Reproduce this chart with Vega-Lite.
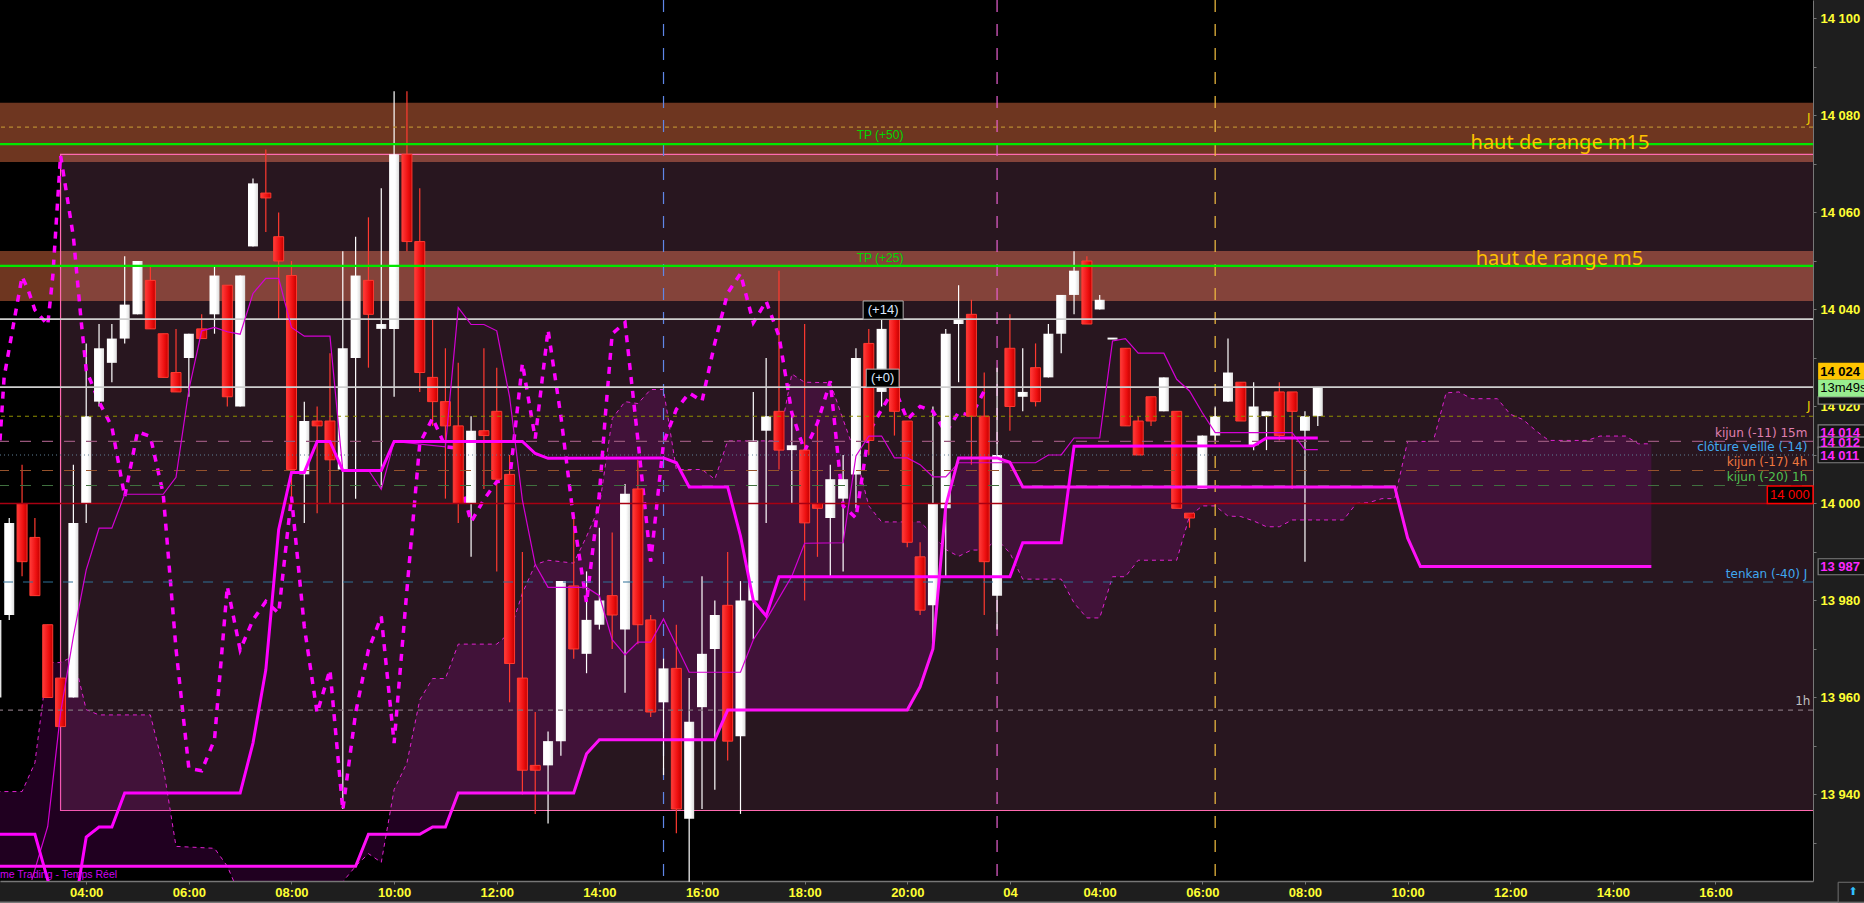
{"$schema":"https://vega.github.io/schema/vega-lite/v6.json","width":1813,"height":881,"autosize":"none","padding":{"left":0,"top":0,"right":51,"bottom":22},"background":"#1e1e1e","view":{"fill":"#000000","stroke":null},"config":{"scale":{"continuousPadding":0}},
"datasets":{
"bands":[{"top":14082.6,"bot":14070.4},{"top":14052.06,"bot":14041.75}],
"range":[{"t":3.5,"t2":37.8,"top":14072,"bot":13936.7}],
"cloud":[{"t":2.25,"a":13940.6,"b":13925.2},{"t":2.75,"a":13940.6,"b":13925.2},{"t":3,"a":13946.5,"b":13925.2},{"t":3.25,"a":13967.2,"b":13925.2},{"t":3.5,"a":13967.2,"b":13925.2},{"t":3.75,"a":13968.5,"b":13925.2},{"t":4,"a":13957.5,"b":13925.2},{"t":4.25,"a":13956.4,"b":13925.2},{"t":5.25,"a":13956.4,"b":13925.2},{"t":5.5,"a":13945.8,"b":13925.2},{"t":5.75,"a":13929.3,"b":13925.2},{"t":6.5,"a":13928.9,"b":13925.2},{"t":6.75,"a":13925.2,"b":13925.2},{"t":7,"a":13919,"b":13925.2},{"t":8.75,"a":13917,"b":13925.2},{"t":9,"a":13922,"b":13925.2},{"t":9.25,"a":13925.2,"b":13925.2},{"t":9.5,"a":13927.8,"b":13931.8},{"t":9.75,"a":13926,"b":13931.8},{"t":10,"a":13941,"b":13931.8},{"t":10.25,"a":13946.5,"b":13931.8},{"t":10.5,"a":13959.5,"b":13931.8},{"t":10.75,"a":13963.9,"b":13933.3},{"t":11,"a":13963.9,"b":13933.3},{"t":11.25,"a":13971,"b":13940.3},{"t":12,"a":13971,"b":13940.3},{"t":12.25,"a":13973.3,"b":13940.3},{"t":12.5,"a":13981.5,"b":13940.3},{"t":12.75,"a":13987.4,"b":13940.3},{"t":13,"a":13988.3,"b":13940.3},{"t":13.5,"a":13987.7,"b":13940.3},{"t":13.75,"a":13993.2,"b":13948.4},{"t":14,"a":13999.4,"b":13951.3},{"t":14.25,"a":14017.5,"b":13951.3},{"t":14.5,"a":14021,"b":13951.3},{"t":14.75,"a":14020.6,"b":13951.3},{"t":15,"a":14023.5,"b":13951.3},{"t":15.25,"a":14023.5,"b":13951.3},{"t":15.5,"a":14007,"b":13951.3},{"t":16,"a":14007,"b":13951.3},{"t":16.25,"a":14005,"b":13951.3},{"t":16.5,"a":14012.9,"b":13957.4},{"t":17.5,"a":14012.9,"b":13957.4},{"t":17.75,"a":14026.7,"b":13957.4},{"t":18,"a":14025,"b":13957.4},{"t":18.5,"a":14024.9,"b":13957.4},{"t":18.75,"a":14017.3,"b":13957.4},{"t":19,"a":14009.8,"b":13957.4},{"t":19.25,"a":13999.5,"b":13957.4},{"t":19.5,"a":13996.2,"b":13957.4},{"t":20,"a":13996.2,"b":13957.4},{"t":20.25,"a":13996.2,"b":13962.2},{"t":20.5,"a":13993.6,"b":13970},{"t":20.75,"a":13990.5,"b":13999.5},{"t":21,"a":13989.1,"b":14009.4},{"t":21.25,"a":13990.4,"b":14009.4},{"t":21.5,"a":13990.4,"b":14009.4},{"t":21.75,"a":13992.6,"b":14009.4},{"t":22,"a":13989.8,"b":14008.5},{"t":22.25,"a":13984.4,"b":14003.4},{"t":23,"a":13984.4,"b":14003.4},{"t":23.25,"a":13979.5,"b":14003.4},{"t":23.5,"a":13976.4,"b":14003.4},{"t":23.75,"a":13976.4,"b":14003.4},{"t":24,"a":13984.9,"b":14003.4},{"t":24.25,"a":13984.9,"b":14003.4},{"t":24.5,"a":13988.3,"b":14003.4},{"t":25.25,"a":13988.3,"b":14003.4},{"t":25.5,"a":13997.4,"b":14003.4},{"t":25.75,"a":13999.5,"b":14003.4},{"t":26,"a":13999.5,"b":14003.4},{"t":26.25,"a":13997.4,"b":14003.4},{"t":26.5,"a":13997.3,"b":14003.4},{"t":26.75,"a":13996.4,"b":14003.4},{"t":27,"a":13995.2,"b":14003.4},{"t":27.25,"a":13995.2,"b":14003.4},{"t":27.5,"a":13996.6,"b":14003.4},{"t":28.5,"a":13996.6,"b":14003.4},{"t":28.75,"a":14000,"b":14003.4},{"t":29,"a":14000.2,"b":14003.4},{"t":29.25,"a":14001,"b":14003.4},{"t":29.5,"a":14001,"b":14003.4},{"t":29.75,"a":14012.8,"b":13992.9},{"t":30,"a":14012.8,"b":13987},{"t":30.25,"a":14012.8,"b":13987},{"t":30.5,"a":14022.8,"b":13987},{"t":30.75,"a":14023,"b":13987},{"t":31,"a":14021.6,"b":13987},{"t":31.5,"a":14021.6,"b":13987},{"t":31.75,"a":14018.4,"b":13987},{"t":32,"a":14017.3,"b":13987},{"t":32.25,"a":14015,"b":13987},{"t":32.5,"a":14013,"b":13987},{"t":33.25,"a":14013,"b":13987},{"t":33.5,"a":14013.9,"b":13987},{"t":34,"a":14013.9,"b":13987},{"t":34.25,"a":14012.3,"b":13987},{"t":34.5,"a":14012.3,"b":13987}],
"kijun":[{"t":2.25,"v":13931.8},{"t":3,"v":13931.8},{"t":3.25,"v":13922.4},{"t":3.5,"v":13915},{"t":3.75,"v":13915},{"t":4,"v":13931.2},{"t":4.25,"v":13933.3},{"t":4.5,"v":13933.3},{"t":4.75,"v":13940.3},{"t":7,"v":13940.3},{"t":7.25,"v":13950.6},{"t":7.5,"v":13965.7},{"t":7.75,"v":13994.6},{"t":8,"v":14006.4},{"t":8.25,"v":14006.4},{"t":8.5,"v":14012.8},{"t":8.75,"v":14012.8},{"t":9,"v":14006.8},{"t":9.75,"v":14006.8},{"t":10,"v":14012.8},{"t":12.5,"v":14012.8},{"t":12.75,"v":14010.3},{"t":13,"v":14009.3},{"t":15.25,"v":14009.4},{"t":15.5,"v":14008.4},{"t":15.75,"v":14003.4},{"t":16.5,"v":14003.4},{"t":16.75,"v":13993.3},{"t":17,"v":13980},{"t":17.25,"v":13976.8},{"t":17.5,"v":13984.9},{"t":22,"v":13984.9},{"t":22.25,"v":13991.9},{"t":23,"v":13991.9},{"t":23.25,"v":14011.8},{"t":26.75,"v":14011.9},{"t":27,"v":14013.5},{"t":28,"v":14013.5}],
"tenkan":[{"t":2.94,"v":13922.4},{"t":3.25,"v":13933.4},{"t":3.5,"v":13956.8},{"t":3.75,"v":13972.6},{"t":4,"v":13986.3},{"t":4.25,"v":13994.9},{"t":4.5,"v":13994.9},{"t":4.75,"v":14001.9},{"t":5.5,"v":14001.9},{"t":5.75,"v":14005.4},{"t":6,"v":14023.4},{"t":6.25,"v":14035.6},{"t":6.5,"v":14036.3},{"t":6.75,"v":14035.4},{"t":7,"v":14034.9},{"t":7.25,"v":14043.3},{"t":7.5,"v":14046.4},{"t":7.75,"v":14046.4},{"t":8,"v":14036.3},{"t":8.25,"v":14034.5},{"t":8.75,"v":14034.5},{"t":9,"v":14006.9},{"t":9.5,"v":14006.9},{"t":9.75,"v":14002.9},{"t":10,"v":14012.8},{"t":11,"v":14011.7},{"t":11.25,"v":14040.4},{"t":11.5,"v":14036.9},{"t":11.75,"v":14036.9},{"t":12,"v":14035.6},{"t":12.25,"v":14022},{"t":12.5,"v":14000.7},{"t":12.75,"v":13987.4},{"t":13,"v":13982.7},{"t":13.75,"v":13982.7},{"t":14,"v":13981},{"t":14.25,"v":13971.9},{"t":14.5,"v":13968.8},{"t":14.75,"v":13971.4},{"t":15,"v":13971.4},{"t":15.25,"v":13976.2},{"t":15.5,"v":13970.7},{"t":15.75,"v":13965.2},{"t":16.75,"v":13965.2},{"t":17,"v":13971.9},{"t":17.25,"v":13976},{"t":17.75,"v":13985},{"t":18,"v":13991.8},{"t":18.75,"v":13991.9},{"t":19,"v":14009.8},{"t":19.25,"v":14013.9},{"t":19.5,"v":14013.9},{"t":19.75,"v":14009.4},{"t":20,"v":14009.4},{"t":20.25,"v":14008},{"t":20.5,"v":14005.5},{"t":20.75,"v":14005.5},{"t":21,"v":14008.4},{"t":22.5,"v":14008.4},{"t":22.75,"v":14010},{"t":23,"v":14010},{"t":23.25,"v":14013.5},{"t":23.75,"v":14013.5},{"t":24,"v":14033.5},{"t":24.25,"v":14034},{"t":24.5,"v":14031},{"t":25,"v":14031},{"t":25.25,"v":14025.6},{"t":25.5,"v":14023.2},{"t":25.75,"v":14018.7},{"t":26,"v":14014.6},{"t":27.5,"v":14014.6},{"t":27.75,"v":14011.1},{"t":28,"v":14011.1}],
"chikou":[{"t":2.32,"v":14013},{"t":2.4,"v":14026},{"t":2.55,"v":14035},{"t":2.75,"v":14046.8},{"t":2.87,"v":14044},{"t":3,"v":14039.9},{"t":3.25,"v":14036.8},{"t":3.35,"v":14047},{"t":3.5,"v":14071.8},{"t":3.75,"v":14055},{"t":3.9,"v":14037.8},{"t":4,"v":14027.5},{"t":4.25,"v":14021},{"t":4.5,"v":14015.8},{"t":4.75,"v":14001.4},{"t":5,"v":14014.8},{"t":5.25,"v":14013.8},{"t":5.5,"v":14002},{"t":5.75,"v":13970},{"t":6,"v":13945.4},{"t":6.25,"v":13944.9},{"t":6.5,"v":13951.3},{"t":6.75,"v":13982.9},{"t":7,"v":13969.8},{"t":7.25,"v":13976},{"t":7.5,"v":13979.8},{"t":7.75,"v":13977.4},{"t":8,"v":14001.4},{"t":8.25,"v":13974.6},{"t":8.5,"v":13956.8},{"t":8.75,"v":13965.7},{"t":9,"v":13936.8},{"t":9.25,"v":13956.8},{"t":9.5,"v":13969.8},{"t":9.75,"v":13976.7},{"t":10,"v":13950.6},{"t":10.25,"v":13982.2},{"t":10.5,"v":14012.4},{"t":10.75,"v":14017.6},{"t":11,"v":14011.7},{"t":11.15,"v":14011.5},{"t":11.25,"v":14006},{"t":11.5,"v":13996.2},{"t":11.75,"v":14000.8},{"t":12,"v":14004.5},{"t":12.25,"v":14004.8},{"t":12.5,"v":14028.9},{"t":12.75,"v":14013.4},{"t":13,"v":14035.8},{"t":13.25,"v":14018},{"t":13.5,"v":13996.6},{"t":13.75,"v":13979.5},{"t":14,"v":14002},{"t":14.12,"v":14018.6},{"t":14.25,"v":14035},{"t":14.5,"v":14037.3},{"t":14.75,"v":14013.2},{"t":15,"v":13988},{"t":15.25,"v":14012.5},{"t":15.5,"v":14019.4},{"t":15.75,"v":14022.8},{"t":16,"v":14021.1},{"t":16.25,"v":14033.1},{"t":16.5,"v":14043.4},{"t":16.75,"v":14047.4},{"t":17,"v":14037.3},{"t":17.25,"v":14041.7},{"t":17.5,"v":14034.5},{"t":17.75,"v":14018.7},{"t":18,"v":14010.8},{"t":18.25,"v":14016.6},{"t":18.5,"v":14025.2},{"t":18.75,"v":13999.5},{"t":19,"v":13997},{"t":19.25,"v":14014.6},{"t":19.5,"v":14019.4},{"t":19.75,"v":14023.8},{"t":20,"v":14017.3},{"t":20.25,"v":14020},{"t":20.5,"v":14019},{"t":20.75,"v":14014.6},{"t":21,"v":14018.8},{"t":21.25,"v":14018.1},{"t":21.5,"v":14023.2}],
"candles":[{"t":2.25,"o":13960,"c":13976,"h":13976,"l":13960},{"t":2.5,"o":13977,"c":13996,"h":13997,"l":13976},{"t":2.75,"o":14000,"c":13988,"h":14008,"l":13985},{"t":3,"o":13993,"c":13981,"h":13997,"l":13981},{"t":3.25,"o":13975,"c":13960,"h":13975,"l":13960},{"t":3.5,"o":13964,"c":13954,"h":13964,"l":13954},{"t":3.75,"o":13960,"c":13996,"h":14008,"l":13960},{"t":4,"o":14000,"c":14018,"h":14033,"l":13996},{"t":4.25,"o":14021,"c":14032,"h":14037,"l":14020},{"t":4.5,"o":14029,"c":14034,"h":14037,"l":14025},{"t":4.75,"o":14034,"c":14041,"h":14051,"l":14033},{"t":5,"o":14039,"c":14050,"h":14050,"l":14039},{"t":5.25,"o":14046,"c":14036,"h":14049,"l":14036},{"t":5.5,"o":14035,"c":14026,"h":14035,"l":14026},{"t":5.75,"o":14027,"c":14023,"h":14036,"l":14023},{"t":6,"o":14030,"c":14035,"h":14035,"l":14022},{"t":6.25,"o":14036,"c":14034,"h":14039,"l":14034},{"t":6.5,"o":14039,"c":14047,"h":14049,"l":14035},{"t":6.75,"o":14045,"c":14022,"h":14045,"l":14020},{"t":7,"o":14020,"c":14047,"h":14047,"l":14020},{"t":7.25,"o":14053,"c":14066,"h":14067,"l":14053},{"t":7.5,"o":14064,"c":14063,"h":14073,"l":14056},{"t":7.75,"o":14055,"c":14050,"h":14060,"l":14038},{"t":8,"o":14047,"c":14007,"h":14050,"l":13999},{"t":8.25,"o":14006,"c":14017,"h":14021,"l":13996},{"t":8.5,"o":14017,"c":14016,"h":14020,"l":13998},{"t":8.75,"o":14017,"c":14009,"h":14031,"l":14000},{"t":9,"o":14007,"c":14032,"h":14052,"l":13937},{"t":9.25,"o":14030,"c":14047,"h":14055,"l":14001},{"t":9.5,"o":14046,"c":14039,"h":14059,"l":14028},{"t":9.75,"o":14036,"c":14037,"h":14065,"l":14003},{"t":10,"o":14036,"c":14072,"h":14085,"l":14022},{"t":10.25,"o":14072,"c":14054,"h":14085,"l":14052},{"t":10.5,"o":14054,"c":14027,"h":14065,"l":14023},{"t":10.75,"o":14026,"c":14021,"h":14038,"l":14016},{"t":11,"o":14021,"c":14016,"h":14032,"l":14001},{"t":11.25,"o":14016,"c":14000,"h":14029,"l":13996},{"t":11.5,"o":14000,"c":14015,"h":14018,"l":13989},{"t":11.75,"o":14015,"c":14014,"h":14032,"l":14003},{"t":12,"o":14019,"c":14005,"h":14028,"l":13986},{"t":12.25,"o":14006,"c":13967,"h":14010,"l":13959},{"t":12.5,"o":13964,"c":13945,"h":13990,"l":13940},{"t":12.75,"o":13946,"c":13945,"h":13957,"l":13936},{"t":13,"o":13946,"c":13951,"h":13953,"l":13934},{"t":13.25,"o":13951,"c":13984,"h":13984,"l":13948},{"t":13.5,"o":13983,"c":13970,"h":13997,"l":13968},{"t":13.75,"o":13969,"c":13976,"h":13986,"l":13965},{"t":14,"o":13975,"c":13980,"h":13995,"l":13974},{"t":14.25,"o":13981,"c":13977,"h":13994,"l":13970},{"t":14.5,"o":13974,"c":14002,"h":14004,"l":13961},{"t":14.75,"o":14003,"c":13975,"h":14009,"l":13971},{"t":15,"o":13976,"c":13957,"h":13977,"l":13956},{"t":15.25,"o":13959,"c":13966,"h":13968,"l":13944},{"t":15.5,"o":13966,"c":13937,"h":13975,"l":13932},{"t":15.75,"o":13935,"c":13955,"h":13964,"l":13922},{"t":16,"o":13958,"c":13969,"h":13985,"l":13937},{"t":16.25,"o":13970,"c":13977,"h":13980,"l":13941},{"t":16.5,"o":13979,"c":13951,"h":13990,"l":13947},{"t":16.75,"o":13952,"c":13980,"h":13984,"l":13936},{"t":17,"o":13980,"c":14013,"h":14023,"l":13972},{"t":17.25,"o":14015,"c":14018,"h":14030,"l":13996},{"t":17.5,"o":14019,"c":14011,"h":14048,"l":14007},{"t":17.75,"o":14011,"c":14012,"h":14018,"l":14000},{"t":18,"o":14011,"c":13996,"h":14037,"l":13980},{"t":18.25,"o":14000,"c":13999,"h":14017,"l":13989},{"t":18.5,"o":13997,"c":14005,"h":14008,"l":13985},{"t":18.75,"o":14001,"c":14005,"h":14010,"l":13986},{"t":19,"o":14006,"c":14030,"h":14032,"l":13999},{"t":19.25,"o":14033,"c":14013,"h":14036,"l":14010},{"t":19.5,"o":14023,"c":14036,"h":14038,"l":14020},{"t":19.75,"o":14038,"c":14019,"h":14038,"l":14014},{"t":20,"o":14017,"c":13992,"h":14017,"l":13991},{"t":20.25,"o":13989,"c":13978,"h":13992,"l":13977},{"t":20.5,"o":13979,"c":14000,"h":14020,"l":13970},{"t":20.75,"o":13999,"c":14035,"h":14036,"l":13985},{"t":21,"o":14037,"c":14038,"h":14045,"l":14025},{"t":21.25,"o":14039,"c":14018,"h":14042,"l":14008},{"t":21.5,"o":14018,"c":13988,"h":14027,"l":13977},{"t":21.75,"o":13981,"c":14010,"h":14028,"l":13974},{"t":22,"o":14032,"c":14020,"h":14039,"l":14015},{"t":22.25,"o":14022,"c":14023,"h":14032,"l":14019},{"t":22.5,"o":14028,"c":14021,"h":14033,"l":14020},{"t":22.75,"o":14026,"c":14035,"h":14037,"l":14026},{"t":23,"o":14035,"c":14043,"h":14043,"l":14031},{"t":23.25,"o":14043,"c":14048,"h":14052,"l":14039},{"t":23.5,"o":14050,"c":14037,"h":14051,"l":14037},{"t":23.75,"o":14040,"c":14042,"h":14043,"l":14040},{"t":24,"o":14033.8,"c":14034.2,"h":14034,"l":14034},{"t":24.25,"o":14032,"c":14016,"h":14032,"l":14016},{"t":24.5,"o":14017,"c":14010,"h":14018,"l":14010},{"t":24.75,"o":14022,"c":14017,"h":14022,"l":14016},{"t":25,"o":14019,"c":14026,"h":14026,"l":14019},{"t":25.25,"o":14019,"c":13999,"h":14019,"l":13999},{"t":25.5,"o":13998,"c":13997,"h":13998,"l":13995},{"t":25.75,"o":14003,"c":14014,"h":14014,"l":14003},{"t":26,"o":14014,"c":14018,"h":14020,"l":14013},{"t":26.25,"o":14021,"c":14027,"h":14034,"l":14021},{"t":26.5,"o":14025,"c":14017,"h":14025,"l":14017},{"t":26.75,"o":14012,"c":14020,"h":14025,"l":14011},{"t":27,"o":14018,"c":14019,"h":14019,"l":14011},{"t":27.25,"o":14023,"c":14014,"h":14025,"l":14013},{"t":27.5,"o":14023,"c":14019,"h":14023,"l":14003},{"t":27.75,"o":14015,"c":14018,"h":14019,"l":13988},{"t":28,"o":14018,"c":14024,"h":14024,"l":14016}],
"solid":[{"v":14074.1,"k":"tp"},{"v":14049,"k":"tp"},{"v":14038,"k":"white"},{"v":14024,"k":"white"},{"v":14000,"k":"red"}],
"dashed":[{"v":14077.6,"k":"jh"},{"v":14018,"k":"j"},{"v":14012.8,"k":"k15"},{"v":14010,"k":"cl"},{"v":14006.8,"k":"k4"},{"v":14003.7,"k":"k1"},{"v":13983.8,"k":"ten"},{"v":13957.4,"k":"h1"}],
"vert":[{"t":15.25,"k":"a"},{"t":21.75,"k":"b"},{"t":26,"k":"c"}],
"levelText":[{"t":37.54,"v":14014.6,"s":"kijun (-11) 15m","k":"a"},{"t":37.54,"v":14011.7,"s":"clôture veille (-14)","k":"b"},{"t":37.54,"v":14008.6,"s":"kijun (-17) 4h","k":"c"},{"t":37.54,"v":14005.5,"s":"kijun (-20) 1h","k":"d"},{"t":37.54,"v":13985.5,"s":"tenkan (-40) J","k":"b"},{"t":37.6,"v":14079.5,"s":"J","k":"e"},{"t":37.6,"v":14020,"s":"J","k":"e"},{"t":37.6,"v":13959.2,"s":"1h","k":"f"}],
"range_text":[{"t":32.72,"v":14074.3,"s":"haut de range m15"},{"t":32.71,"v":14050.4,"s":"haut de range m5"}],
"tp":[{"t":19.47,"v":14075.9,"s":"TP (+50)"},{"t":19.47,"v":14050.7,"s":"TP (+25)"}],
"pills":[{"t":19.14,"t2":19.92,"top":14041.75,"bot":14038,"m":19.53,"mv":14039.9,"s":"(+14)"},{"t":19.2,"t2":19.84,"top":14027.7,"bot":14024,"m":19.52,"mv":14025.9,"s":"(+0)"}],
"grayBoxes":[{"t":37.75,"t2":38.8,"top":14022,"bot":14020.5},{"t":37.75,"t2":38.8,"top":14016.2,"bot":14013.7},{"t":37.75,"t2":38.8,"top":14013.7,"bot":14011.4},{"t":37.75,"t2":38.8,"top":14011.6,"bot":14008.4},{"t":37.75,"t2":38.8,"top":13988.6,"bot":13985.3}],
"boxText":[{"t":37.79,"v":14014.5,"s":"14 014"},{"t":37.79,"v":14012.5,"s":"14 012"},{"t":37.79,"v":14009.8,"s":"14 011"},{"t":37.79,"v":13986.9,"s":"13 987"}],
"gold":[{"t":37.75,"t2":38.8,"top":14029,"bot":14025.5}],
"green":[{"t":37.75,"t2":38.8,"top":14025.5,"bot":14022}],
"redBox":[{"t":36.76,"t2":37.65,"top":14003.6,"bot":14000}]
},
"layer":[
{"data":{"name":"bands"},"mark":{"type":"rect","color":"#6e3620"},"encoding":{"y":{"field":"top","type":"quantitative","scale":{"domain":[13922.16,14103.81]},"title":null,"axis":{"orient":"right","title":null,"grid":false,"values":[13930,13940,13950,13960,13970,13980,13990,14000,14010,14020,14030,14040,14050,14060,14070,14080,14090,14100],"labelExpr":"datum.value%20==0?replace(format(datum.value,','),',',' '):''","labelColor":"#ffff33","labelFont":"Liberation Sans","labelFontWeight":"bold","labelFontSize":13,"labelPadding":4,"tickSize":3,"tickColor":"#777777","domainColor":"#777777","labelOverlap":false,"labelBound":false,"labelFlush":false}},"y2":{"field":"bot"}}},
{"data":{"name":"range"},"mark":{"type":"rect","fill":"#ff8ec8","fillOpacity":0.155,"stroke":"#ff6ab0","strokeWidth":1.2,"clip":true},"encoding":{"x":{"field":"t","type":"quantitative","scale":{"domain":[2.32,37.65]},"title":null,"axis":{"title":null,"grid":false,"values":[2.24,4,6,8,10,12,14,16,18,20,22,23.75,25.75,27.75,29.75,31.75,33.75,35.75],"labelExpr":"{'2.24':'03','4':'04:00','6':'06:00','8':'08:00','10':'10:00','12':'12:00','14':'14:00','16':'16:00','18':'18:00','20':'20:00','22':'04','23.75':'04:00','25.75':'06:00','27.75':'08:00','29.75':'10:00','31.75':'12:00','33.75':'14:00','35.75':'16:00'}[datum.value]","labelColor":"#ffff33","labelFont":"Liberation Sans","labelFontWeight":"bold","labelFontSize":13,"labelPadding":2,"tickSize":3,"tickColor":"#777777","domainColor":"#777777","domainWidth":1.5,"labelOverlap":false,"labelBound":false,"labelFlush":false}},"x2":{"field":"t2"},"y":{"field":"top","type":"quantitative","scale":{"domain":[13922.16,14103.81]},"title":null},"y2":{"field":"bot"}}},
{"data":{"name":"cloud"},"mark":{"type":"area","color":"#c000c0","opacity":0.17,"clip":true},"encoding":{"x":{"field":"t","type":"quantitative","scale":{"domain":[2.32,37.65]},"title":null},"y":{"field":"a","type":"quantitative","scale":{"domain":[13922.16,14103.81]},"title":null},"y2":{"field":"b"}}},
{"data":{"name":"cloud"},"mark":{"type":"line","color":"#e020d0","strokeWidth":1,"strokeDash":[4,4],"clip":true},"encoding":{"x":{"field":"t","type":"quantitative","scale":{"domain":[2.32,37.65]},"title":null},"y":{"field":"a","type":"quantitative","scale":{"domain":[13922.16,14103.81]},"title":null}}},
{"data":{"name":"vert"},"mark":{"type":"rule","strokeWidth":1.2,"strokeDash":[12,12],"clip":true},"encoding":{"x":{"field":"t","type":"quantitative","scale":{"domain":[2.32,37.65]},"title":null},"color":{"field":"k","type":"nominal","legend":null,"scale":{"domain":["a","b","c"],"range":["#5f86e8","#e860d0","#f5c040"]}}}},
{"data":{"name":"candles"},"transform":[{"filter":"datum.c>=datum.o"}],"mark":{"type":"rule","color":"#ffffff","strokeWidth":1.2},"encoding":{"x":{"field":"t","type":"quantitative","scale":{"domain":[2.32,37.65]},"title":null},"y":{"field":"h","type":"quantitative","scale":{"domain":[13922.16,14103.81]},"title":null},"y2":{"field":"l"}}},
{"data":{"name":"candles"},"transform":[{"filter":"datum.c<datum.o"}],"mark":{"type":"rule","color":"#ff3a30","strokeWidth":1.2},"encoding":{"x":{"field":"t","type":"quantitative","scale":{"domain":[2.32,37.65]},"title":null},"y":{"field":"h","type":"quantitative","scale":{"domain":[13922.16,14103.81]},"title":null},"y2":{"field":"l"}}},
{"data":{"name":"chikou"},"mark":{"type":"line","color":"#ff00ff","strokeWidth":3.5,"strokeDash":[7,7],"clip":true},"encoding":{"x":{"field":"t","type":"quantitative","scale":{"domain":[2.32,37.65]},"title":null},"y":{"field":"v","type":"quantitative","scale":{"domain":[13922.16,14103.81]},"title":null}}},
{"data":{"name":"candles"},"transform":[{"filter":"datum.c>=datum.o"}],"mark":{"type":"bar","size":10,"color":{"gradient":"linear","x1":0,"x2":1,"y1":0,"y2":0,"stops":[{"offset":0,"color":"#ffffff"},{"offset":0.6,"color":"#ffffff"},{"offset":1,"color":"#dcdcdc"}]}},"encoding":{"x":{"field":"t","type":"quantitative","scale":{"domain":[2.32,37.65]},"title":null},"y":{"field":"o","type":"quantitative","scale":{"domain":[13922.16,14103.81]},"title":null},"y2":{"field":"c"}}},
{"data":{"name":"candles"},"transform":[{"filter":"datum.c<datum.o"}],"mark":{"type":"bar","size":10,"stroke":"#ff3a30","strokeWidth":1,"color":{"gradient":"linear","x1":0,"x2":1,"y1":0,"y2":0,"stops":[{"offset":0,"color":"#ff3a3a"},{"offset":0.6,"color":"#ee1010"},{"offset":1,"color":"#c40000"}]}},"encoding":{"x":{"field":"t","type":"quantitative","scale":{"domain":[2.32,37.65]},"title":null},"y":{"field":"o","type":"quantitative","scale":{"domain":[13922.16,14103.81]},"title":null},"y2":{"field":"c"}}},
{"data":{"name":"dashed"},"mark":{"type":"rule","strokeWidth":1.1,"clip":true},"encoding":{"y":{"field":"v","type":"quantitative","scale":{"domain":[13922.16,14103.81]},"title":null},"color":{"field":"k","type":"nominal","legend":null,"scale":{"domain":["jh","j","k15","cl","k4","k1","ten","h1"],"range":["#b88a30","#8f8f00","#96557a","#5f7f96","#96522c","#40703f","#2f7198","#80707a"]}},"strokeDash":{"field":"k","type":"nominal","legend":null,"scale":{"domain":["jh","j","k15","cl","k4","k1","ten","h1"],"range":[[4,4],[4,4],[11,11],[1,3],[11,11],[11,11],[10,10],[5,5]]}}}},
{"data":{"name":"solid"},"mark":{"type":"rule","clip":true},"encoding":{"y":{"field":"v","type":"quantitative","scale":{"domain":[13922.16,14103.81]},"title":null},"color":{"field":"k","type":"nominal","legend":null,"scale":{"domain":["tp","white","red"],"range":["#00e800","#cfcfcf","#a80012"]}},"size":{"field":"k","type":"nominal","legend":null,"scale":{"domain":["tp","white","red"],"range":[2.2,1.4,2]}}}},
{"data":{"name":"tenkan"},"mark":{"type":"line","color":"#d400d4","strokeWidth":1.2,"clip":true},"encoding":{"x":{"field":"t","type":"quantitative","scale":{"domain":[2.32,37.65]},"title":null},"y":{"field":"v","type":"quantitative","scale":{"domain":[13922.16,14103.81]},"title":null}}},
{"data":{"name":"kijun"},"mark":{"type":"line","color":"#ff00ff","strokeWidth":3,"clip":true},"encoding":{"x":{"field":"t","type":"quantitative","scale":{"domain":[2.32,37.65]},"title":null},"y":{"field":"v","type":"quantitative","scale":{"domain":[13922.16,14103.81]},"title":null}}},
{"data":{"name":"cloud"},"mark":{"type":"line","color":"#ff10f8","strokeWidth":3,"clip":true},"encoding":{"x":{"field":"t","type":"quantitative","scale":{"domain":[2.32,37.65]},"title":null},"y":{"field":"b","type":"quantitative","scale":{"domain":[13922.16,14103.81]},"title":null}}},
{"data":{"name":"levelText"},"mark":{"type":"text","align":"right","baseline":"middle","font":"DejaVu Sans","fontSize":12},"encoding":{"x":{"field":"t","type":"quantitative","scale":{"domain":[2.32,37.65]},"title":null},"y":{"field":"v","type":"quantitative","scale":{"domain":[13922.16,14103.81]},"title":null},"text":{"field":"s"},"color":{"field":"k","type":"nominal","legend":null,"scale":{"domain":["a","b","c","d","e","f"],"range":["#e080b0","#40a8f0","#f07840","#50c050","#f0d000","#c0c0c0"]}}}},
{"data":{"name":"range_text"},"mark":{"type":"text","align":"center","baseline":"middle","font":"Noto Sans","fontSize":20,"color":"#ffc000"},"encoding":{"x":{"field":"t","type":"quantitative","scale":{"domain":[2.32,37.65]},"title":null},"y":{"field":"v","type":"quantitative","scale":{"domain":[13922.16,14103.81]},"title":null},"text":{"field":"s"}}},
{"data":{"name":"tp"},"mark":{"type":"text","align":"center","baseline":"middle","font":"Liberation Sans","fontSize":12,"color":"#00d800"},"encoding":{"x":{"field":"t","type":"quantitative","scale":{"domain":[2.32,37.65]},"title":null},"y":{"field":"v","type":"quantitative","scale":{"domain":[13922.16,14103.81]},"title":null},"text":{"field":"s"}}},
{"data":{"name":"pills"},"mark":{"type":"rect","fill":"#000000","stroke":"#b0b0b0","strokeWidth":1},"encoding":{"x":{"field":"t","type":"quantitative","scale":{"domain":[2.32,37.65]},"title":null},"x2":{"field":"t2"},"y":{"field":"top","type":"quantitative","scale":{"domain":[13922.16,14103.81]},"title":null},"y2":{"field":"bot"}}},
{"data":{"name":"pills"},"mark":{"type":"text","align":"center","baseline":"middle","font":"Liberation Sans","fontSize":13,"color":"#dbe8ff"},"encoding":{"x":{"field":"m","type":"quantitative","scale":{"domain":[2.32,37.65]},"title":null},"y":{"field":"mv","type":"quantitative","scale":{"domain":[13922.16,14103.81]},"title":null},"text":{"field":"s"}}},
{"data":{"name":"grayBoxes"},"mark":{"type":"rect","fill":"#141414","stroke":"#808080","strokeWidth":1.2},"encoding":{"x":{"field":"t","type":"quantitative","scale":{"domain":[2.32,37.65]},"title":null},"x2":{"field":"t2"},"y":{"field":"top","type":"quantitative","scale":{"domain":[13922.16,14103.81]},"title":null},"y2":{"field":"bot"}}},
{"data":{"name":"boxText"},"mark":{"type":"text","align":"left","baseline":"middle","font":"Liberation Sans","fontWeight":"bold","fontSize":13,"color":"#ff28ff"},"encoding":{"x":{"field":"t","type":"quantitative","scale":{"domain":[2.32,37.65]},"title":null},"y":{"field":"v","type":"quantitative","scale":{"domain":[13922.16,14103.81]},"title":null},"text":{"field":"s"}}},
{"data":{"name":"gold"},"mark":{"type":"rect","fill":"#ffc400"},"encoding":{"x":{"field":"t","type":"quantitative","scale":{"domain":[2.32,37.65]},"title":null},"x2":{"field":"t2"},"y":{"field":"top","type":"quantitative","scale":{"domain":[13922.16,14103.81]},"title":null},"y2":{"field":"bot"}}},
{"data":{"name":"green"},"mark":{"type":"rect","fill":"#98ee90"},"encoding":{"x":{"field":"t","type":"quantitative","scale":{"domain":[2.32,37.65]},"title":null},"x2":{"field":"t2"},"y":{"field":"top","type":"quantitative","scale":{"domain":[13922.16,14103.81]},"title":null},"y2":{"field":"bot"}}},
{"data":{"values":[{"t":37.79,"v":14027.2,"s":"14 024"}]},"mark":{"type":"text","align":"left","baseline":"middle","font":"Liberation Sans","fontWeight":"bold","fontSize":13,"color":"#000000"},"encoding":{"x":{"field":"t","type":"quantitative","scale":{"domain":[2.32,37.65]},"title":null},"y":{"field":"v","type":"quantitative","scale":{"domain":[13922.16,14103.81]},"title":null},"text":{"field":"s"}}},
{"data":{"values":[{"t":37.79,"v":14023.8,"s":"13m49s"}]},"mark":{"type":"text","align":"left","baseline":"middle","font":"Liberation Sans","fontSize":13,"color":"#000000"},"encoding":{"x":{"field":"t","type":"quantitative","scale":{"domain":[2.32,37.65]},"title":null},"y":{"field":"v","type":"quantitative","scale":{"domain":[13922.16,14103.81]},"title":null},"text":{"field":"s"}}},
{"data":{"name":"redBox"},"mark":{"type":"rect","fill":"#000000","stroke":"#ff0000","strokeWidth":1.5},"encoding":{"x":{"field":"t","type":"quantitative","scale":{"domain":[2.32,37.65]},"title":null},"x2":{"field":"t2"},"y":{"field":"top","type":"quantitative","scale":{"domain":[13922.16,14103.81]},"title":null},"y2":{"field":"bot"}}},
{"data":{"values":[{"t":37.2,"v":14001.8,"s":"14 000"}]},"mark":{"type":"text","align":"center","baseline":"middle","font":"Liberation Sans","fontSize":13,"color":"#ff0000"},"encoding":{"x":{"field":"t","type":"quantitative","scale":{"domain":[2.32,37.65]},"title":null},"y":{"field":"v","type":"quantitative","scale":{"domain":[13922.16,14103.81]},"title":null},"text":{"field":"s"}}},
{"data":{"values":[{"t":2.32,"v":13923.3,"s":"me Trading - Temps Réel"}]},"mark":{"type":"text","align":"left","baseline":"middle","font":"Liberation Sans","fontSize":10.5,"color":"#d000f0"},"encoding":{"x":{"field":"t","type":"quantitative","scale":{"domain":[2.32,37.65]},"title":null},"y":{"field":"v","type":"quantitative","scale":{"domain":[13922.16,14103.81]},"title":null},"text":{"field":"s"}}},
{"data":{"values":[{"t":2.32,"t2":38.8,"v":13917.8}]},"mark":{"type":"rule","color":"#777777","strokeWidth":1.5},"encoding":{"x":{"field":"t","type":"quantitative","scale":{"domain":[2.32,37.65]},"title":null},"x2":{"field":"t2"},"y":{"field":"v","type":"quantitative","scale":{"domain":[13922.16,14103.81]},"title":null}}},
{"data":{"values":[{"t":38.14,"t2":38.8,"top":13921.9,"bot":13917.8}]},"mark":{"type":"rect","fill":"#1e1e1e","stroke":"#707070","strokeWidth":1},"encoding":{"x":{"field":"t","type":"quantitative","scale":{"domain":[2.32,37.65]},"title":null},"x2":{"field":"t2"},"y":{"field":"top","type":"quantitative","scale":{"domain":[13922.16,14103.81]},"title":null},"y2":{"field":"bot"}}},
{"data":{"values":[{"t":38.43,"v":13919.9,"s":"⬆"}]},"mark":{"type":"text","align":"center","baseline":"middle","font":"DejaVu Sans","fontSize":11,"color":"#30c0ff"},"encoding":{"x":{"field":"t","type":"quantitative","scale":{"domain":[2.32,37.65]},"title":null},"y":{"field":"v","type":"quantitative","scale":{"domain":[13922.16,14103.81]},"title":null},"text":{"field":"s"}}}
],
"resolve":{"scale":{"color":"independent","strokeDash":"independent","size":"independent"}}}
